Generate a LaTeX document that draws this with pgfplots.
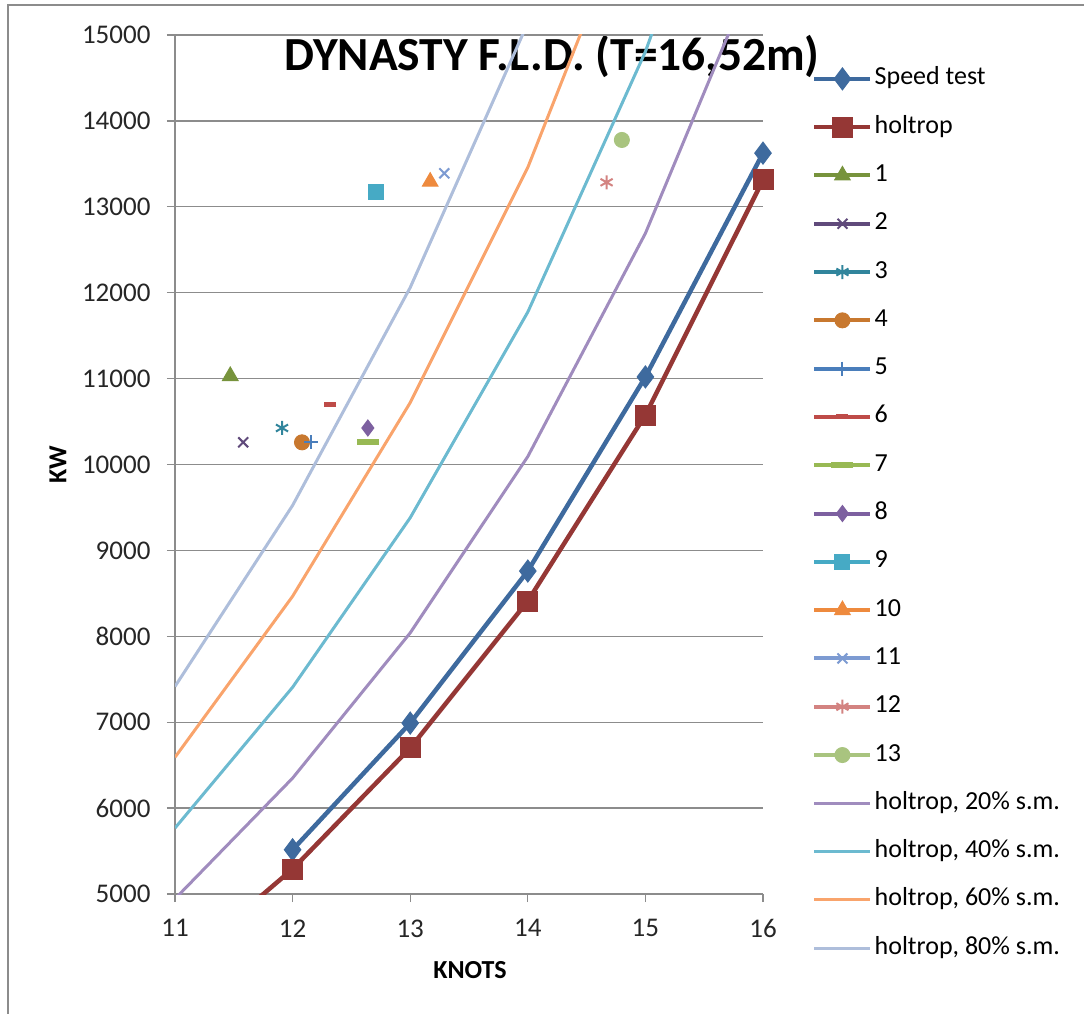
\documentclass[border=0pt]{standalone}
\usepackage{fontspec}
\setmainfont{Carlito}
\usepackage{pgfplots}
\pgfplotsset{compat=1.18}
\definecolor{cSpeed}{HTML}{3E6A9E}
\definecolor{cHolt}{HTML}{953735}
\definecolor{cA}{HTML}{77933C}
\definecolor{cB}{HTML}{604A7B}
\definecolor{cC}{HTML}{31859C}
\definecolor{cD}{HTML}{C8782F}
\definecolor{cE}{HTML}{4A7EBB}
\definecolor{cF}{HTML}{BE4B48}
\definecolor{cG}{HTML}{98B954}
\definecolor{cH}{HTML}{7D60A0}
\definecolor{cI}{HTML}{46AAC5}
\definecolor{cJ}{HTML}{EE8A3E}
\definecolor{cK}{HTML}{7D9BD2}
\definecolor{cL}{HTML}{D38381}
\definecolor{cM}{HTML}{A9C47F}
\definecolor{sA}{HTML}{A08CBE}
\definecolor{sB}{HTML}{6CBAD0}
\definecolor{sC}{HTML}{F9A46C}
\definecolor{sD}{HTML}{AEBEDB}
\definecolor{gridgray}{HTML}{8C8C8C}
\begin{document}
\begin{tikzpicture}[x=1pt,y=1pt]
\useasboundingbox (0,0) rectangle (1084,-1014);
\draw[color=gridgray, line width=2pt] (8,-1014) -- (8,-5) -- (1084,-5);
\node[anchor=base, font=\bfseries\fontsize{47.5}{47.5}\selectfont, inner sep=0pt] at (552,-71) {DYNASTY F.L.D. (T=16,52m)};
\begin{axis}[
  at={(175pt,-894pt)}, anchor=south west,
  width=588pt, height=859pt, scale only axis,
  xmin=11, xmax=16, ymin=5000, ymax=15000,
  xtick={11,12,13,14,15,16},
  ytick={5000,6000,7000,8000,9000,10000,11000,12000,13000,14000,15000},
  axis lines*=left,
  tick align=outside, major tick length=8pt,
  ymajorgrids,
  grid style={color=gridgray, line width=1.3pt},
  axis line style={color=gridgray, line width=1.3pt},
  every tick/.style={color=gridgray, line width=1.3pt},
  scaled y ticks=false,
  yticklabel style={/pgf/number format/1000 sep={}, /pgf/number format/assume math mode=true, xshift=-13pt},
  xticklabel style={/pgf/number format/assume math mode=true, yshift=-14pt},
  tick label style={font=\fontsize{27}{27}\selectfont, color=black!85},
  xlabel={KNOTS}, ylabel={KW},
  label style={font=\bfseries\fontsize{26}{26}\selectfont},
  xlabel style={at={(axis description cs:0.5017,-0.0885)}, anchor=center},
  ylabel style={at={(axis description cs:-0.199,0.4994)}, anchor=center},
  legend cell align=left,
  legend style={at={(axis description cs:1.0833,0.962)}, anchor=north west,
    draw=none, fill=none, inner sep=0pt, column sep=2pt, row sep=26.3pt,
    font=\fontsize{26}{26}\selectfont,
    nodes={inner sep=0pt, text height=17pt, text depth=5pt}},
  legend image code/.code={\draw[mark repeat=2,mark phase=2] plot coordinates {(0pt,0pt)(28pt,0pt)(56pt,0pt)};},
]
\addplot[color=cSpeed, line width=4.5pt, mark=diamond*, mark size=11pt, mark options={line width=1pt}]
  coordinates {(12,5515)(13,6990)(14,8760)(15,11020)(16,13625)};
\addlegendentry{Speed test}
\addplot[forget plot, color=cHolt, line width=4.5pt, no marks]
  coordinates {(11,4120)(12,5291)};
\addplot[color=cHolt, line width=4.5pt, mark=square*, mark size=10pt, mark options={line width=1pt}]
  coordinates {(12,5291)(13,6700)(14,8411)(15,10576)(16,13312)};
\addlegendentry{holtrop}
\addplot[color=cA, line width=4pt, mark=triangle*, mark size=9pt, mark options={line width=1pt}] coordinates {(11.47,11030)};
\addlegendentry{1}
\addplot[color=cB, line width=4pt, mark=x, mark size=7pt, mark options={line width=2pt}] coordinates {(11.58,10258)};
\addlegendentry{2}
\addplot[color=cC, line width=4pt, mark=asterisk, mark size=7pt, mark options={line width=2pt}] coordinates {(11.91,10425)};
\addlegendentry{3}
\addplot[color=cD, line width=4pt, mark=*, mark size=7.5pt, mark options={line width=1pt}] coordinates {(12.08,10258)};
\addlegendentry{4}
\addplot[color=cE, line width=4pt, mark=+, mark size=7pt, mark options={line width=2pt}] coordinates {(12.16,10258)};
\addlegendentry{5}
\addplot[color=cF, line width=4pt, mark=-, mark size=6pt, mark options={line width=5pt}] coordinates {(12.32,10693)};
\addlegendentry{6}
\addplot[color=cG, line width=4pt, mark=-, mark size=11pt, mark options={line width=6pt}] coordinates {(12.64,10258)};
\addlegendentry{7}
\addplot[color=cH, line width=4pt, mark=diamond*, mark size=8pt, mark options={line width=1pt}] coordinates {(12.64,10425)};
\addlegendentry{8}
\addplot[color=cI, line width=4pt, mark=square*, mark size=7.5pt, mark options={line width=1pt}] coordinates {(12.71,13170)};
\addlegendentry{9}
\addplot[color=cJ, line width=4pt, mark=triangle*, mark size=9pt, mark options={line width=1pt}] coordinates {(13.17,13292)};
\addlegendentry{10}
\addplot[color=cK, line width=4pt, mark=x, mark size=7pt, mark options={line width=2pt}] coordinates {(13.29,13390)};
\addlegendentry{11}
\addplot[color=cL, line width=4pt, mark=asterisk, mark size=7pt, mark options={line width=2pt}] coordinates {(14.67,13285)};
\addlegendentry{12}
\addplot[color=cM, line width=4pt, mark=*, mark size=7.5pt, mark options={line width=1pt}] coordinates {(14.80,13778)};
\addlegendentry{13}
\addplot[color=sA, line width=3pt, no marks] coordinates {(11,4944)(12,6349)(13,8040)(14,10093)(15,12691)(16,15974)};
\addlegendentry{holtrop, 20\% s.m.}
\addplot[color=sB, line width=3pt, no marks] coordinates {(11,5768)(12,7407)(13,9380)(14,11775)(15,14806)(16,18637)};
\addlegendentry{holtrop, 40\% s.m.}
\addplot[color=sC, line width=3pt, no marks] coordinates {(11,6592)(12,8466)(13,10720)(14,13458)(15,16922)(16,21299)};
\addlegendentry{holtrop, 60\% s.m.}
\addplot[color=sD, line width=3pt, no marks] coordinates {(11,7416)(12,9524)(13,12060)(14,15140)(15,19037)(16,23962)};
\addlegendentry{holtrop, 80\% s.m.}
\end{axis}
\end{tikzpicture}
\end{document}
